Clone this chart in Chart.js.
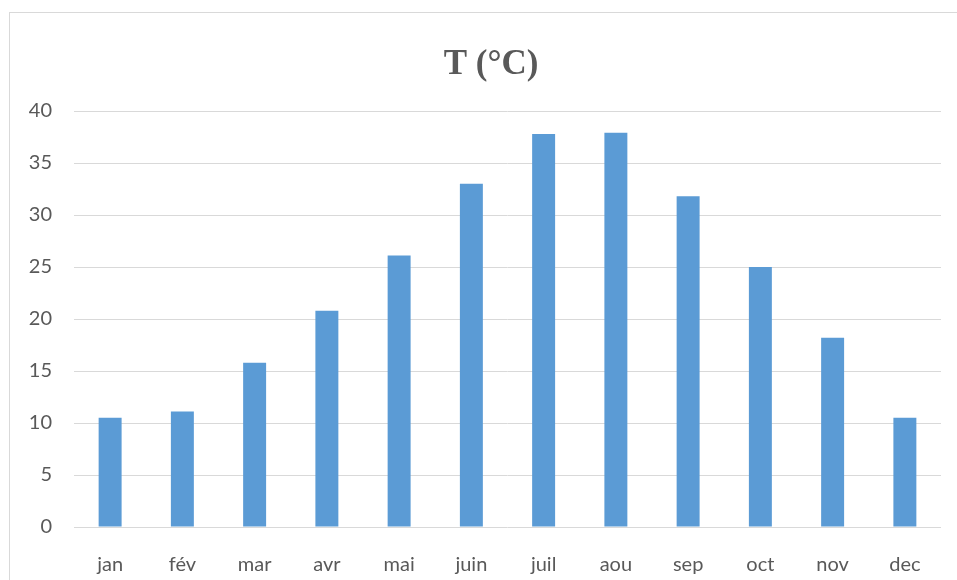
<!DOCTYPE html>
<html>
<head>
<meta charset="utf-8">
<script src="https://cdn.jsdelivr.net/npm/chart.js@4"></script>
<style>
  html, body { margin: 0; padding: 0; background: #fff; overflow: hidden; }
  #frame {
    position: absolute; left: 9px; top: 12px;
    width: 980px; height: 600px;
    border: 1px solid #d9d9d9;
  }
  #wrap { position: absolute; left: 0; top: 0; width: 947px; height: 567px; }
</style>
</head>
<body>
<div id="frame">
  <div id="wrap"><canvas id="tempChart"></canvas></div>
</div>
<script>
const months = ["jan", "fév", "mar", "avr", "mai", "juin", "juil", "aou", "sep", "oct", "nov", "dec"];
const temps = [10.5, 11.1, 15.8, 20.8, 26.1, 33.0, 37.8, 37.9, 31.8, 25.0, 18.2, 10.5];
const yTicks = [0, 5, 10, 15, 20, 25, 30, 35, 40];

const gray = "#595959";
const gridColor = "#d9d9d9";
const tickFont = "Lato, 'Open Sans', sans-serif";

// y labels are drawn mirrored (so they are not clipped), right-aligned 22px left of the plot
const measure = document.createElement("canvas").getContext("2d");
measure.font = "20px " + tickFont;
const widest = Math.max(...yTicks.map(v => measure.measureText(String(v)).width));

new Chart(document.getElementById("tempChart"), {
  type: "bar",
  data: {
    labels: months,
    datasets: [{
      label: "T (°C)",
      data: temps,
      backgroundColor: "#5b9bd5",
      borderWidth: 0,
      categoryPercentage: 1,
      barPercentage: 0.318
    }]
  },
  options: {
    responsive: true,
    maintainAspectRatio: false,
    animation: false,
    layout: { padding: { left: 31, right: 16, top: 0, bottom: 0 } },
    plugins: {
      legend: { display: false },
      tooltip: { enabled: false },
      title: {
        display: true,
        text: "T (°C)",
        color: gray,
        font: { family: "'Liberation Serif', 'DejaVu Serif', serif", size: 35, weight: "bold" },
        padding: { top: 31, bottom: 25 }
      }
    },
    scales: {
      x: {
        grid: { display: false, drawTicks: false },
        border: { display: false },
        ticks: {
          color: gray,
          font: { family: tickFont, size: 20 },
          padding: 26
        },
        afterFit: s => { s.height = 53; }
      },
      y: {
        min: 0,
        max: 40,
        afterBuildTicks: s => { s.ticks = yTicks.map(v => ({ value: v })); },
        grid: { color: gridColor, lineWidth: 1, drawTicks: false },
        border: { display: false },
        ticks: {
          color: gray,
          font: { family: tickFont, size: 20 },
          mirror: true,
          crossAlign: "far",
          padding: -(22 + widest)
        },
        afterFit: s => { s.width = 33; }
      }
    }
  }
});
</script>
</body>
</html>
